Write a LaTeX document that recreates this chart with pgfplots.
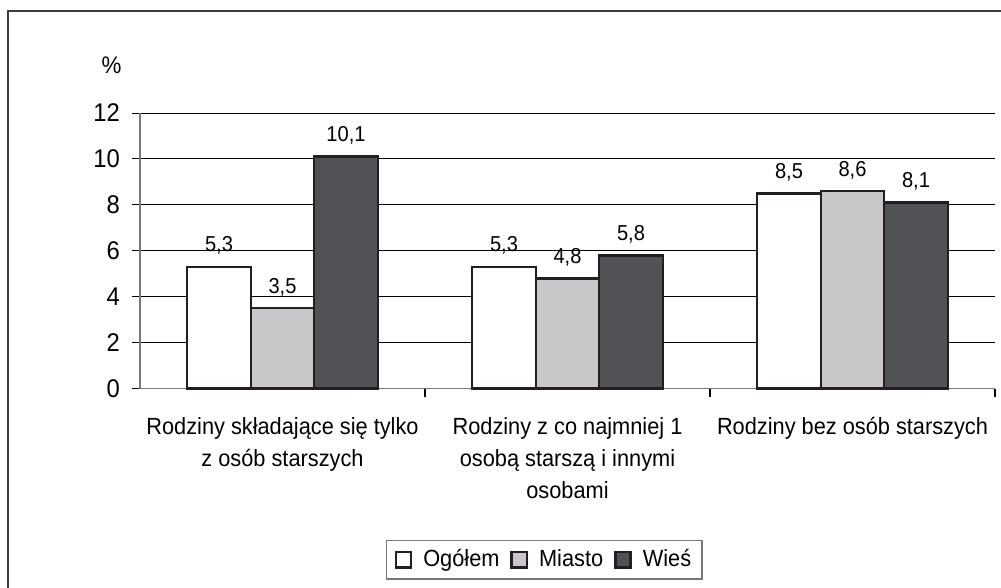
\documentclass[border=0pt]{standalone}
\usepackage{fontspec}
\setmainfont{Liberation Sans}[FakeStretch=0.93]
\usepackage{pgfplots}
\pgfplotsset{compat=1.18}

\definecolor{barline}{RGB}{35,31,32}
\definecolor{miasto}{RGB}{200,200,202}
\definecolor{wies}{RGB}{80,82,85}
\definecolor{axisgray}{RGB}{120,120,120}
\definecolor{framegray}{RGB}{60,60,60}

\begin{document}
\begin{tikzpicture}
    \path[use as bounding box] (0pt,0pt) rectangle (500.5pt,-294pt);
    \draw[framegray, line width=1pt] (4pt,-300pt) -- (4pt,-5.5pt) -- (505pt,-5.5pt);

    \begin{axis}[
        at={(70pt,-194.25pt)}, anchor=south west,
        scale only axis,
        width=427.5pt, height=137.75pt,
        ybar=0pt,
        bar width=31.75pt,
        xmin=-0.5, xmax=2.5,
        ymin=0, ymax=12,
        ytick={0,2,...,12},
        xtick={0,1,2},
        xticklabels={{Rodziny składające się tylko\\z osób starszych},
                     {Rodziny z co najmniej 1\\osobą starszą i innymi\\osobami},
                     {Rodziny bez osób starszych}},
        minor xtick={0.5,1.5,2.5},
        major x tick style={draw=none},
        minor x tick style={draw=black, line width=0.6pt},
        minor tick length=4pt,
        major tick length=4pt,
        tick align=outside,
        axis x line*=bottom,
        axis y line*=left,
        axis line style={axisgray, line width=0.7pt, -},
        ymajorgrids=true,
        grid style={black, line width=0.5pt},
        y tick style={black, line width=0.5pt},
        /pgf/number format/assume math mode=true,
        yticklabel style={font=\fontsize{12.8}{15}\selectfont, xshift=-2.5pt},
        xticklabel style={font=\fontsize{11.7}{16}\selectfont, align=center, yshift=-7pt},
        nodes near coords,
        nodes near coords style={font=\fontsize{10.8}{12}\selectfont, inner sep=0pt, anchor=south, yshift=5.5pt,
            /pgf/number format/.cd, fixed, fixed zerofill, precision=1, use comma},
        legend columns=3,
        legend style={at={(0.473,-0.55)}, anchor=north, draw=axisgray, line width=0.7pt,
            font=\fontsize{11.7}{13}\selectfont, column sep=4pt, inner xsep=4pt, inner ysep=2.5pt,
            nodes={inner xsep=1.5pt}},
        legend image code/.code={\draw[#1] (0pt,-3.8pt) rectangle (7.6pt,3.8pt);},
        clip=false,
    ]
        \addplot[draw=barline, line width=1.2pt, fill=white]
            coordinates {(0,5.3) (1,5.3) (2,8.5)};
        \addplot[draw=barline, line width=1.2pt, fill=miasto]
            coordinates {(0,3.5) (1,4.8) (2,8.6)};
        \addplot[draw=barline, line width=1.2pt, fill=wies]
            coordinates {(0,10.1) (1,5.8) (2,8.1)};
        \legend{Ogółem,Miasto,Wieś}
        \node[font=\fontsize{12}{14}\selectfont] at (rel axis cs:-0.0333,1.174) {\%};
    \end{axis}
\end{tikzpicture}
\end{document}
